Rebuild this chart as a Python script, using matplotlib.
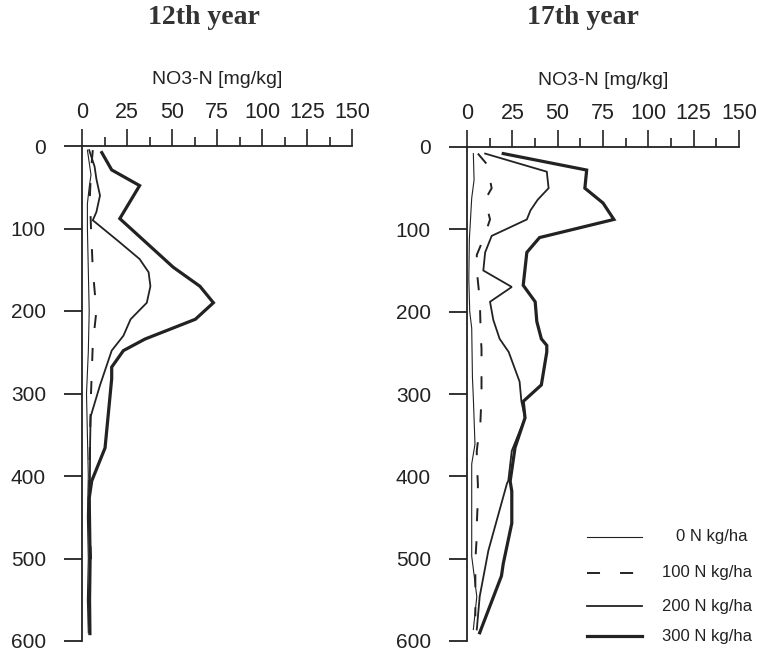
import matplotlib
matplotlib.use("Agg")
import matplotlib.pyplot as plt
from matplotlib.lines import Line2D
from matplotlib.ticker import MultipleLocator

# ---------------- data (NO3-N mg/kg vs depth cm) ----------------
# 12th year
y12_0_x = [3, 4, 5, 4, 3, 3, 3.5, 4, 3.5, 2.5, 3, 3.5, 3, 3.5, 3, 3.5]
y12_0_d = [5, 20, 35, 50, 70, 100, 150, 200, 250, 300, 350, 400, 450, 500, 550, 590]
y12_100_x = [6, 5, 4.4, 5, 6, 8, 6, 5, 4.5, 4, 4, 5, 4, 4]
y12_100_d = [5, 30, 60, 100, 150, 200, 240, 300, 350, 400, 450, 500, 550, 590]
y12_200_x = [4, 7, 8, 10, 8, 6, 20, 32, 37, 38, 36, 27, 23, 16.5, 10, 4.8, 4.5, 4.4, 4, 4.5, 4.2, 4.4]
y12_200_d = [5, 25, 40, 60, 80, 90, 115, 137, 153, 170, 190, 210, 230, 248, 290, 328, 360, 406, 450, 500, 550, 590]
y12_300_x = [11, 16.5, 32, 21, 50.7, 65.5, 73, 63, 35, 23, 16.5, 16.5, 12.8, 5.4, 4, 4.5, 4.2, 4.4]
y12_300_d = [8, 29, 48, 88, 147, 170, 190, 210, 234, 248, 268, 282, 366, 406, 427, 500, 550, 591]

# 17th year
y17_0_x = [3.5, 3.9, 2.6, 1.3, 1, 1.5, 2.6, 3, 3.5, 4.4, 2.6, 2.6, 2.6, 5.4, 3.5]
y17_0_d = [8, 40, 62, 112, 160, 200, 220, 280, 305, 361, 385, 440, 497, 546, 586]
y17_100_x = [6, 11, 13.6, 10, 12.7, 9, 5.4, 5.4, 6.8, 7.2, 7.6, 8, 8, 8, 8, 7.4, 6.6, 5.4, 5.4,
             6, 6, 5.4, 5.4, 4.6, 4.6, 4.6, 4.6]
y17_100_d = [8, 21, 50, 64, 88, 112, 131, 150, 180, 197, 230, 245, 262, 283, 302, 334, 347, 369, 380,
             410, 428, 458, 473, 502, 518, 554, 570]
y17_200_x = [10, 44, 45, 39, 35, 33, 13.6, 10, 9, 24.7, 12.7, 14.5, 18, 23, 29, 30, 32, 24.7, 22.8,
             22, 11.8, 7, 5.4]
y17_200_d = [8, 30, 50, 64, 77, 88, 108, 128, 150, 170, 188, 210, 233, 249, 285, 309, 329, 369, 405,
             409, 490, 546, 586]
y17_300_x = [20, 66, 65, 75, 81, 40, 33, 31, 37.6, 38.5, 41, 44, 44, 41, 31, 32, 26.5, 23.8, 24.7,
             24.7, 20, 19, 7]
y17_300_d = [8, 28, 50, 68, 88, 110, 128, 168, 188, 212, 233, 241, 249, 289, 309, 329, 365, 406, 418,
             457, 506, 521, 590]

x_ticks = [0, 25, 50, 75, 100, 125, 150]
y_ticks = [0, 100, 200, 300, 400, 500, 600]
titles = ["12th year", "17th year"]
xlabel = "NO3-N [mg/kg]"
legend_labels = ["0 N kg/ha", "100 N kg/ha", "200 N kg/ha", "300 N kg/ha"]

# ---------------- styling ----------------
W, H = 757, 653
col = "#222222"
styles = [
    dict(color=col, lw=0.8, ls="-"),
    dict(color=col, lw=1.4, ls=(0, (6.7, 10.3))),
    dict(color=col, lw=1.3, ls="-"),
    dict(color=col, lw=2.3, ls="-"),
]

fig = plt.figure(figsize=(W / 100, H / 100), dpi=100)
fig.patch.set_facecolor("white")

def px_ax(x0, x1, ytop, ybot):
    return [x0 / W, 1 - ybot / H, (x1 - x0) / W, (ybot - ytop) / H]

ax1 = fig.add_axes(px_ax(82, 352, 146, 641))
ax2 = fig.add_axes(px_ax(467, 739, 147, 641))

series = [
    [(y12_0_x, y12_0_d), (y12_100_x, y12_100_d), (y12_200_x, y12_200_d), (y12_300_x, y12_300_d)],
    [(y17_0_x, y17_0_d), (y17_100_x, y17_100_d), (y17_200_x, y17_200_d), (y17_300_x, y17_300_d)],
]

for ax, ser in zip([ax1, ax2], series):
    for (xs, ds), st in zip(ser, styles):
        ax.plot(xs, ds, solid_joinstyle="miter", **st)
    ax.set_xlim(0, 150)
    ax.set_ylim(600, 0)
    ax.xaxis.tick_top()
    ax.xaxis.set_label_position("top")
    for s in ["right", "bottom"]:
        ax.spines[s].set_visible(False)
    for s in ["top", "left"]:
        ax.spines[s].set_linewidth(1.3)
        ax.spines[s].set_color(col)
    ax.set_xticks(x_ticks)
    ax.xaxis.set_minor_locator(MultipleLocator(12.5))
    ax.set_yticks(y_ticks)
    ax.tick_params(axis="x", which="major", direction="out", length=12, width=1.2,
                   pad=4.5, labelsize=15.5, colors=col)
    ax.tick_params(axis="x", which="minor", direction="out", length=6.5, width=1.2, colors=col)
    ax.tick_params(axis="y", which="major", direction="out", length=13, width=1.3,
                   pad=13, labelsize=15, colors=col)
    for lab in ax.get_xticklabels() + ax.get_yticklabels():
        lab.set_fontfamily("Liberation Sans")
    ax.set_xlabel(xlabel, fontsize=14, family="Liberation Sans", labelpad=13, color=col)
    ax.patch.set_alpha(0)

# titles
fig.text(204 / W, 1 - 18 / H, titles[0], ha="center", va="center", fontsize=20,
         fontweight="bold", family="Liberation Serif", color="#333333")
fig.text(583 / W, 1 - 18 / H, titles[1], ha="center", va="center", fontsize=20,
         fontweight="bold", family="Liberation Serif", color="#333333")

# manual legend
leg_y = [537, 573, 606, 636]
text_x = [676, 662, 662, 662]
for yy, tx, st, lab in zip(leg_y, text_x, styles, legend_labels):
    fig.add_artist(Line2D([587 / W, 642 / W], [1 - yy / H, 1 - yy / H],
                          transform=fig.transFigure, **st))
    fig.text(tx / W, 1 - yy / H, lab, ha="left", va="center", fontsize=12,
             family="Liberation Sans", color=col)

fig.savefig("out.png", dpi=100, facecolor="white")
